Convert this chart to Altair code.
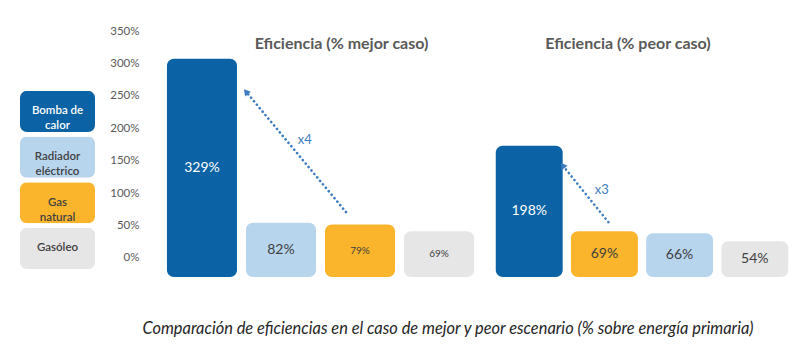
import altair as alt
import pandas as pd

categories = ["Bomba de calor", "Radiador eléctrico", "Gas natural", "Gasóleo"]
legend_labels = ["Bomba de\ncalor", "Radiador\neléctrico", "Gas\nnatural", "Gasóleo"]
colors = ["#0b63a5", "#b8d5ee", "#fbb52c", "#e6e6e6"]

best_order = ["Bomba de calor", "Radiador eléctrico", "Gas natural", "Gasóleo"]
best_values = [329, 82, 79, 69]
worst_order = ["Bomba de calor", "Gas natural", "Radiador eléctrico", "Gasóleo"]
worst_values = [198, 69, 66, 54]

y_ticks = [0, 50, 100, 150, 200, 250, 300, 350]

title_best = "Eficiencia (% mejor caso)"
title_worst = "Eficiencia (% peor caso)"
caption = "Comparación de eficiencias en el caso de mejor y peor escenario (% sobre energía primaria)"

FONT = "Lato"
ARROW = "#3d7cc0"
H = 253
BAR_DOMAIN = [0, 381.6]
AXIS_DOMAIN = [-29.3, 360.8]

color_scale = alt.Scale(domain=categories, range=colors)


def build(order, values, title, dx, width, p_inner, p_outer, small_labels, show_axis,
          arrow_from, from_pos, to_cat, to_pos, angle, text_cat, text_pos,
          start_factor, end_factor, text_factor):
    df = pd.DataFrame({"cat": order, "val": values})
    df["lab"] = [f"{v}%" for v in values]
    df["mid"] = df["val"] / 2
    xscale = alt.Scale(domain=order, paddingInner=p_inner, paddingOuter=p_outer)
    x = alt.X("cat:N", scale=xscale, axis=None)
    yscale = alt.Scale(domain=BAR_DOMAIN, nice=False, zero=False)
    bars = alt.Chart(df).mark_bar(cornerRadius=7).encode(
        x=x,
        y=alt.Y("val:Q", scale=yscale, axis=None),
        y2=alt.datum(0),
        color=alt.Color("cat:N", scale=color_scale, legend=None),
    )
    small_expr = " || ".join([f"datum.cat == '{c}'" for c in small_labels]) or "false"
    labels = alt.Chart(df).mark_text(font=FONT).encode(
        x=x,
        y=alt.Y("mid:Q", scale=yscale, axis=None),
        text="lab:N",
        color=alt.condition("datum.cat == 'Bomba de calor'", alt.value("white"), alt.value("#404040")),
        size=alt.condition(small_expr, alt.value(10), alt.value(14)),
    )
    heat = values[order.index("Bomba de calor")]
    src = values[order.index(arrow_from)]
    arrow_df = pd.DataFrame({
        "from": [arrow_from], "to": [to_cat], "tcat": [text_cat],
        "y1": [src * start_factor], "y2": [heat * end_factor],
        "ty": [heat * text_factor], "txt": [f"x{round(heat / src)}"],
    })
    line = alt.Chart(arrow_df).mark_rule(color=ARROW, strokeWidth=2.6, strokeDash=[0.1, 4.4],
                                         strokeCap="round").encode(
        x=alt.X("from:N", scale=xscale, axis=None, bandPosition=from_pos),
        x2=alt.X2("to", bandPosition=to_pos),
        y=alt.Y("y1:Q", scale=yscale, axis=None),
        y2="y2:Q",
    )
    head = alt.Chart(arrow_df).mark_point(shape="triangle-up", filled=True, color=ARROW,
                                          size=55, angle=angle, opacity=1).encode(
        x=alt.X("to:N", scale=xscale, axis=None, bandPosition=to_pos),
        y=alt.Y("y2:Q", scale=yscale, axis=None),
    )
    mult = alt.Chart(arrow_df).mark_text(font=FONT, fontSize=13, color=ARROW, align="center").encode(
        x=alt.X("tcat:N", scale=xscale, axis=None, bandPosition=text_pos),
        y=alt.Y("ty:Q", scale=yscale, axis=None),
        text="txt:N",
    )
    layers = [bars, labels, line, head, mult]
    if show_axis:
        tick_df = pd.DataFrame({"t": y_ticks})
        yaxis = alt.Axis(values=y_ticks, labelExpr="datum.value + '%'", orient="left",
                         ticks=False, domain=False, grid=False, labelPadding=24,
                         labelOverlap=False, labelFlush=False,
                         labelColor="#595959", labelFont=FONT, labelFontSize=11.5, title=None)
        axis_layer = alt.Chart(tick_df).mark_tick(opacity=0).encode(
            y=alt.Y("t:Q", scale=alt.Scale(domain=AXIS_DOMAIN, nice=False, zero=False), axis=yaxis),
        )
        layers.append(axis_layer)
    return alt.layer(*layers).resolve_scale(y="independent").properties(
        width=width, height=H,
        title=alt.TitleParams(title, font=FONT, fontSize=16, fontWeight="bold", color="#595959",
                              anchor="middle", dx=dx, offset=-28),
    )


left = build(best_order, best_values, title_best, 21, 315, 0.114, 0.05,
             ["Gas natural", "Gasóleo"], True,
             "Gas natural", 0.3, "Radiador eléctrico", 0.0, 320, "Radiador eléctrico", 0.84,
             1.24, 0.85, 0.63)
right = build(worst_order, worst_values, title_worst, -14, 300, 0.11, 0.05,
              [], False,
              "Gas natural", 0.56, "Bomba de calor", 1.0, 324, "Gas natural", 0.46,
              1.2, 0.85, 0.66)

leg_df = pd.DataFrame({"cat": categories, "txt": legend_labels, "one": [1] * 4, "half": [0.5] * 4})
ly = alt.Y("cat:N", axis=None,
           scale=alt.Scale(domain=categories, paddingInner=0.1, paddingOuter=0.82, align=0.893))
leg_rect = alt.Chart(leg_df).mark_bar(cornerRadius=7).encode(
    x=alt.X("one:Q", scale=alt.Scale(domain=[0, 1]), axis=None),
    y=ly,
    color=alt.Color("cat:N", scale=color_scale, legend=None),
)
leg_text = alt.Chart(leg_df).mark_text(font=FONT, fontSize=11.5, fontWeight=600, lineBreak="\n",
                                       lineHeight=15).encode(
    x=alt.X("half:Q", scale=alt.Scale(domain=[0, 1]), axis=None),
    y=ly,
    text="txt:N",
    color=alt.condition("datum.cat == 'Bomba de calor'", alt.value("white"), alt.value("#404040")),
)
legend = alt.layer(leg_rect, leg_text).properties(width=75, height=H)

chart = alt.hconcat(legend, left, right).properties(
    padding={"left": 12, "top": 16, "right": 0, "bottom": 0},
    title=alt.TitleParams(caption, orient="bottom", font=FONT, fontSize=16.4, fontStyle="italic",
                          fontWeight="normal", color="#262626", anchor="middle", dx=42, offset=44),
).configure_view(stroke=None).configure_concat(spacing=14)

chart.save("out.html", embed_options={"renderer": "svg", "actions": False})
